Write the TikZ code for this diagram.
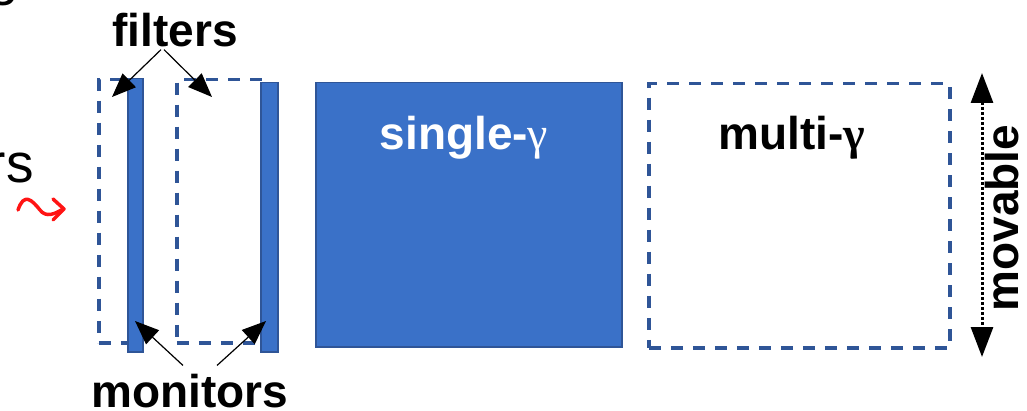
\documentclass[tikz,border=0pt]{standalone}
\usepackage{fontspec}
\setmainfont{Liberation Sans}
\newfontfamily\serifg{Liberation Serif}
\usetikzlibrary{arrows.meta}
\definecolor{boxblue}{RGB}{58,113,200}
\definecolor{edgeblue}{RGB}{47,85,151}
\definecolor{wavered}{RGB}{255,20,20}
\begin{document}
\begin{tikzpicture}[x=1pt,y=-1pt,
  dashbox/.style={draw=edgeblue,line width=3.5pt,dash pattern=on 12pt off 10pt,inner sep=0,anchor=north west},
  solidbox/.style={fill=boxblue,draw=edgeblue,line width=1.5pt,inner sep=0,anchor=north west},
  lbl/.style={font=\fontsize{46}{50}\selectfont\bfseries,inner sep=0},
  plain/.style={font=\fontsize{55}{60}\selectfont,inner sep=0},
  ptr/.style={line width=1.2pt,-{Triangle[length=24pt,width=19pt]}},
  bigptr/.style={line width=3pt,dotted,{Triangle[length=30pt,width=22pt]}-{Triangle[length=30pt,width=22pt]}}]
\useasboundingbox (0,0) rectangle (1027,411);
% cropped text fragments
\node[plain,anchor=base west] (frag1) at (-12,-5) {g};
\node[plain,anchor=base east] (frag2) at (34,183) {rs};
% red wavy arrow
\draw[wavered,line width=3.5pt,line cap=round,line join=round]
  (18,210) .. controls (24,192) and (32,200) .. (40,210) .. controls (46,218) and (55,214) .. (63,209);
\draw[wavered,line width=3.5pt,line cap=round,line join=round] (53,199) -- (64,209) -- (53,220);
% filters (dashed) and monitors (solid)
\node[dashbox,minimum width=34pt,minimum height=263pt] (filtA) at (97,78) {};
\node[solidbox,minimum width=15pt,minimum height=273pt] (monA) at (127,78) {};
\node[dashbox,minimum width=87pt,minimum height=263pt] (filtB) at (175,78) {};
\node[solidbox,minimum width=17pt,minimum height=269pt] (monB) at (260,82) {};
% detectors
\node[solidbox,minimum width=306pt,minimum height=264pt] (single) at (315,82) {};
\node[dashbox,minimum width=301pt,minimum height=264pt] (multi) at (647,82) {};
\node[lbl,text=white,anchor=base] (singlelbl) at (464,150) {single-{\serifg\mdseries γ}};
\node[lbl,anchor=base] (multilbl) at (792,150) {multi-{\serifg γ}};
% labels
\node[lbl,anchor=base] (filters) at (175,47) {filters};
\node[lbl,anchor=base] (monitors) at (190,407) {monitors};
\coordinate (fa) at (112,97);
\coordinate (fb) at (212,97);
\coordinate (ma) at (135,321);
\coordinate (mb) at (266,321);
\draw[ptr] (filters.south) ++(-14,2) -- (fa);
\draw[ptr] (filters.south) ++(-11,2) -- (fb);
\draw[ptr] (monitors.north) ++(-7,-8) -- (ma);
\draw[ptr] (monitors.north) ++(27,-8) -- (mb);
% movable
\coordinate (mvtop) at (982,73);
\coordinate (mvbot) at (982,357);
\draw[bigptr] (mvtop) -- (mvbot);
\node[lbl,rotate=90,anchor=base] (movable) at (1018,218) {movable};
\end{tikzpicture}
\end{document}
